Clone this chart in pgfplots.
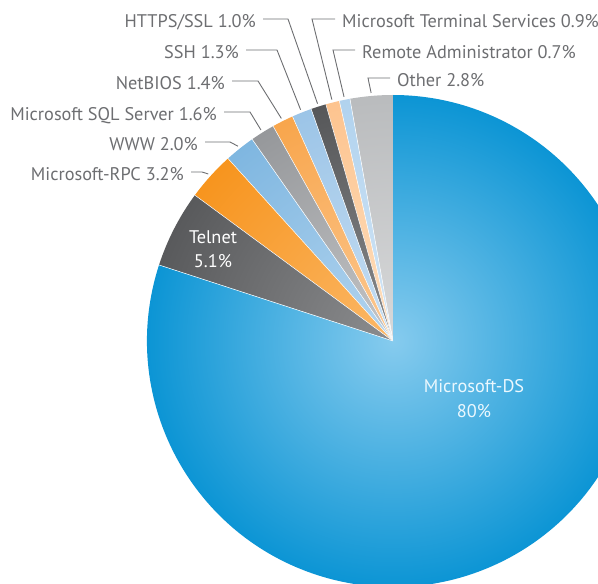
\documentclass[border=0pt]{standalone}
\usepackage{pgfplots}
\pgfplotsset{compat=1.18}
\usepackage{pgfplotstable}
\usepackage{fontspec}
\setmainfont{PT Sans}
\definecolor{txt}{HTML}{6D6E71}
\definecolor{c0i}{HTML}{D8D9DA}\definecolor{c0o}{HTML}{B9BBBD}
\definecolor{c1i}{HTML}{D5E7F7}\definecolor{c1o}{HTML}{B0D2EE}
\definecolor{c2i}{HTML}{FEE0C0}\definecolor{c2o}{HTML}{FDC38E}
\definecolor{c3i}{HTML}{8A8B8D}\definecolor{c3o}{HTML}{555658}
\definecolor{c4i}{HTML}{C8DFF3}\definecolor{c4o}{HTML}{9BC4E7}
\definecolor{c5i}{HTML}{FCC993}\definecolor{c5o}{HTML}{F8A54B}
\definecolor{c6i}{HTML}{C4C5C7}\definecolor{c6o}{HTML}{95979A}
\definecolor{c7i}{HTML}{B4D5EF}\definecolor{c7o}{HTML}{7EB6E0}
\definecolor{c8i}{HTML}{FBB868}\definecolor{c8o}{HTML}{F7941D}
\definecolor{c9i}{HTML}{8C8D8F}\definecolor{c9o}{HTML}{58595B}
\definecolor{c10i}{HTML}{86CBEE}\definecolor{c10o}{HTML}{0A94D4}

\pgfplotstableread[col sep=comma]{
name,value,side,lx,ly,ex
Other,2.8,2,397,78,368
Remote Administrator,0.7,2,362,50,333
Microsoft Terminal Services,0.9,2,342,19,312
HTTPS/SSL,1.0,1,256,19,288
SSH,1.3,1,239,50,277
NetBIOS,1.4,1,225,81,258
Microsoft SQL Server,1.6,1,217,112,250
WWW,2.0,1,198,142,230
Microsoft-RPC,3.2,1,184,172,202
Telnet,5.1,0,0,0,0
Microsoft-DS,80,0,0,0,0
}\piedata

\begin{document}
\begin{tikzpicture}[font=\fontsize{18.3}{22}\selectfont]
\begin{axis}[
  scale only axis, width=598pt, height=584pt,
  xmin=0, xmax=598, ymin=0, ymax=584,
  enlargelimits=false, hide axis, clip=true]
\pgfplotsextra{
  \pgfplotstablegetrowsof{\piedata}
  \pgfmathtruncatemacro\nrows{\pgfplotsretval-1}
  \gdef\cum{0}
  \foreach \i in {0,...,\nrows}{
    \pgfplotstablegetelem{\i}{value}\of\piedata \let\v\pgfplotsretval
    \pgfmathsetmacro\aone{90+3.6*\cum}
    \pgfmathsetmacro\atwo{90+3.6*(\cum+\v)}
    \begin{scope}
      \clip (axis cs:393,243) -- ++(\aone:246pt) arc[start angle=\aone, end angle=\atwo, radius=246pt] -- cycle;
      \shade[inner color=c\i i, outer color=c\i o] (axis cs:393,243) circle[radius=250pt];
    \end{scope}
    \draw[white, line width=0.5pt] (axis cs:393,243) -- ++(\aone:246pt);
    \pgfmathsetmacro\newcum{\cum+\v}
    \xdef\cum{\newcum}
  }
  \gdef\cum{0}
  \foreach \i in {0,...,\nrows}{
    \pgfplotstablegetelem{\i}{value}\of\piedata \let\v\pgfplotsretval
    \pgfplotstablegetelem{\i}{side}\of\piedata \let\s\pgfplotsretval
    \pgfplotstablegetelem{\i}{lx}\of\piedata \let\lx\pgfplotsretval
    \pgfplotstablegetelem{\i}{ly}\of\piedata \let\ly\pgfplotsretval
    \pgfplotstablegetelem{\i}{ex}\of\piedata \let\ex\pgfplotsretval
    \pgfplotstablegetelem{\i}{name}\of\piedata \let\nm\pgfplotsretval
    \pgfmathsetmacro\amid{90+3.6*(\cum+\v/2)}
    \pgfmathsetmacro\px{393+249*cos(\amid)}
    \pgfmathsetmacro\py{243+249*sin(\amid)}
    \pgfmathsetmacro\yl{584-\ly}
    \pgfmathsetmacro\yb{584-\ly-8.3}
    \ifnum\s=1
      \pgfmathsetmacro\xs{\lx+7}
      \node[anchor=base east, inner sep=0pt, text=txt] at (axis cs:\lx,\yb) {\nm\ \pgfmathprintnumber[fixed,fixed zerofill,precision=1,assume math mode=true]{\v}\%};
      \draw[txt, line width=0.9pt] (axis cs:\xs,\yl) -- (axis cs:\ex,\yl) -- (axis cs:\px,\py);
    \fi
    \ifnum\s=2
      \pgfmathsetmacro\xs{\lx-7}
      \node[anchor=base west, inner sep=0pt, text=txt] at (axis cs:\lx,\yb) {\nm\ \pgfmathprintnumber[fixed,fixed zerofill,precision=1,assume math mode=true]{\v}\%};
      \draw[txt, line width=0.9pt] (axis cs:\xs,\yl) -- (axis cs:\ex,\yl) -- (axis cs:\px,\py);
    \fi
    \pgfmathsetmacro\newcum{\cum+\v}
    \xdef\cum{\newcum}
  }
}
\node[anchor=base, inner sep=0pt, text=white] at (axis cs:213,340) {Telnet};
\node[anchor=base, inner sep=0pt, text=white] at (axis cs:213,316) {5.1\%};
\node[anchor=base, inner sep=0pt, text=white!92!cyan] at (axis cs:474,191) {Microsoft-DS};
\node[anchor=base, inner sep=0pt, text=white!92!cyan] at (axis cs:474,166) {80\%};
\end{axis}
\pgfresetboundingbox
\path[use as bounding box] (current axis.south west) rectangle (current axis.north east);
\end{tikzpicture}
\end{document}
